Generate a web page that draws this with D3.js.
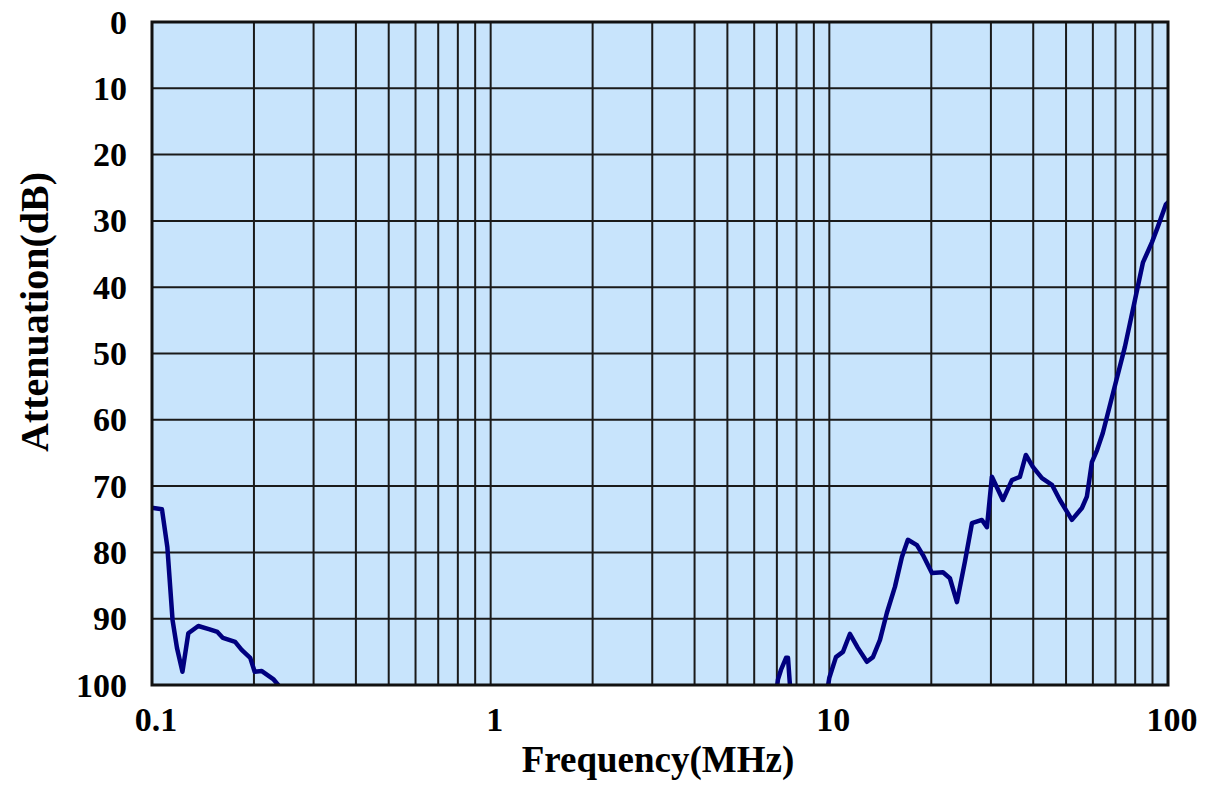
<!DOCTYPE html>
<html>

<head>
  <title>Attenuation</title>
  <script src="https://cdn.jsdelivr.net/npm/d3@7"></script>
  <style>
    body { margin: 0; background: #fff; }
    text { font-family: "Liberation Serif", "Times New Roman", serif; font-weight: bold; fill: #000; }
  </style>
</head>

<body>
  <svg width="1218" height="785" id="mainsvg"></svg>
  <script>
    // curve pieces (MHz, dB) – the line dips below 100 dB between them and is clipped
    const lowFreq = [0.101, 0.107, 0.111, 0.115, 0.1185, 0.123, 0.128, 0.137, 0.148, 0.156, 0.162, 0.176, 0.184, 0.195, 0.201, 0.211, 0.228, 0.245];
    const lowAtten = [73.3, 73.5, 79.2, 90.2, 94.4, 98.0, 92.2, 91.1, 91.6, 92.0, 92.9, 93.5, 94.7, 95.9, 98.0, 97.9, 99.1, 101];
    const midFreq = [6.98, 7.05, 7.2, 7.45, 7.55, 7.63, 7.68];
    const midAtten = [101, 99.2, 97.7, 95.9, 95.9, 99.2, 101];
    const highFreq = [9.85, 10.0, 10.46, 10.97, 11.5, 12.14, 12.91, 13.45, 14.11, 14.79, 15.62, 16.38, 17.06, 18.14, 18.9, 20.09, 21.65, 22.7, 23.81, 25.14, 26.37, 28.22, 29.2, 30.2, 32.54, 34.6, 36.53, 38.05, 39.9, 42.44, 45.42, 47.95, 52.03, 55.7, 57.6, 59.6, 61.7, 64.2, 68.8, 74.6, 79.9, 84.3, 89.7, 93.3, 98.6, 100];
    const highAtten = [101, 98.9, 95.8, 95.0, 92.3, 94.4, 96.5, 95.8, 93.2, 89.1, 85.2, 80.7, 78.1, 78.9, 80.4, 83.1, 83.0, 83.9, 87.5, 81.4, 75.6, 75.1, 76.2, 68.6, 72.1, 69.1, 68.6, 65.3, 67.1, 68.8, 69.8, 72.1, 75.1, 73.3, 71.6, 66.4, 64.6, 62.0, 56.0, 49.0, 41.9, 36.3, 33.2, 30.9, 27.5, 27.2];

    const xTicks = [0.1, 1, 10, 100];
    const xTickLabels = ['0.1', '1', '10', '100'];
    const yTicks = [0, 10, 20, 30, 40, 50, 60, 70, 80, 90, 100];

    const svg = d3.select('#mainsvg');
    const plotL = 152, plotR = 1168, plotT = 22, plotB = 685;

    const x = d3.scaleLog().domain([0.1, 100]).range([plotL, plotR]);
    const y = d3.scaleLinear().domain([0, 100]).range([plotT, plotB]);

    svg.append('rect')
      .attr('x', plotL).attr('y', plotT)
      .attr('width', plotR - plotL).attr('height', plotB - plotT)
      .attr('fill', '#c8e4fc');

    // grid: every 1..9 of each decade
    const minor = [];
    for (let d = 0.1; d < 100; d *= 10) {
      for (let k = 1; k <= 9; k++) minor.push(+(d * k).toPrecision(3));
    }
    svg.selectAll('line.vgrid').data(minor).join('line')
      .attr('class', 'vgrid')
      .attr('x1', d => x(d)).attr('x2', d => x(d))
      .attr('y1', plotT).attr('y2', plotB)
      .attr('stroke', '#1a1a1a')
      .attr('stroke-width', 2);

    svg.selectAll('line.hgrid').data(yTicks).join('line')
      .attr('class', 'hgrid')
      .attr('x1', plotL).attr('x2', plotR)
      .attr('y1', d => y(d)).attr('y2', d => y(d))
      .attr('stroke', '#1a1a1a')
      .attr('stroke-width', 2);

    svg.append('clipPath').attr('id', 'plotclip')
      .append('rect')
      .attr('x', plotL).attr('y', plotT)
      .attr('width', plotR - plotL).attr('height', plotB - plotT);

    const line = d3.line()
      .x(d => x(d[0]))
      .y(d => y(d[1]));

    const pieces = [
      d3.zip(lowFreq, lowAtten),
      d3.zip(midFreq, midAtten),
      d3.zip(highFreq, highAtten)
    ];

    svg.append('g').attr('clip-path', 'url(#plotclip)')
      .selectAll('path').data(pieces).join('path')
      .attr('d', line)
      .attr('fill', 'none')
      .attr('stroke', '#00007f')
      .attr('stroke-width', 4.5)
      .attr('stroke-linejoin', 'round')
      .attr('stroke-linecap', 'round');

    svg.append('rect')
      .attr('x', plotL).attr('y', plotT)
      .attr('width', plotR - plotL).attr('height', plotB - plotT)
      .attr('fill', 'none')
      .attr('stroke', '#111')
      .attr('stroke-width', 3);

    // axis labels
    svg.selectAll('text.ylab').data(yTicks).join('text')
      .attr('class', 'ylab')
      .attr('x', 127)
      .attr('y', d => y(d))
      .attr('dy', '0.34em')
      .attr('text-anchor', 'end')
      .attr('font-size', 34)
      .text(d => d);

    svg.selectAll('text.xlab').data(xTicks).join('text')
      .attr('class', 'xlab')
      .attr('x', d => x(d) + 4)
      .attr('y', 731)
      .attr('text-anchor', 'middle')
      .attr('font-size', 34)
      .text((d, i) => xTickLabels[i]);

    svg.append('text')
      .attr('x', (plotL + plotR) / 2 - 2)
      .attr('y', 772)
      .attr('text-anchor', 'middle')
      .attr('font-size', 37)
      .text('Frequency(MHz)');

    svg.append('text')
      .attr('transform', 'translate(48,312) rotate(-90)')
      .attr('text-anchor', 'middle')
      .attr('font-size', 40)
      .text('Attenuation(dB)');
  </script>
</body>

</html>
